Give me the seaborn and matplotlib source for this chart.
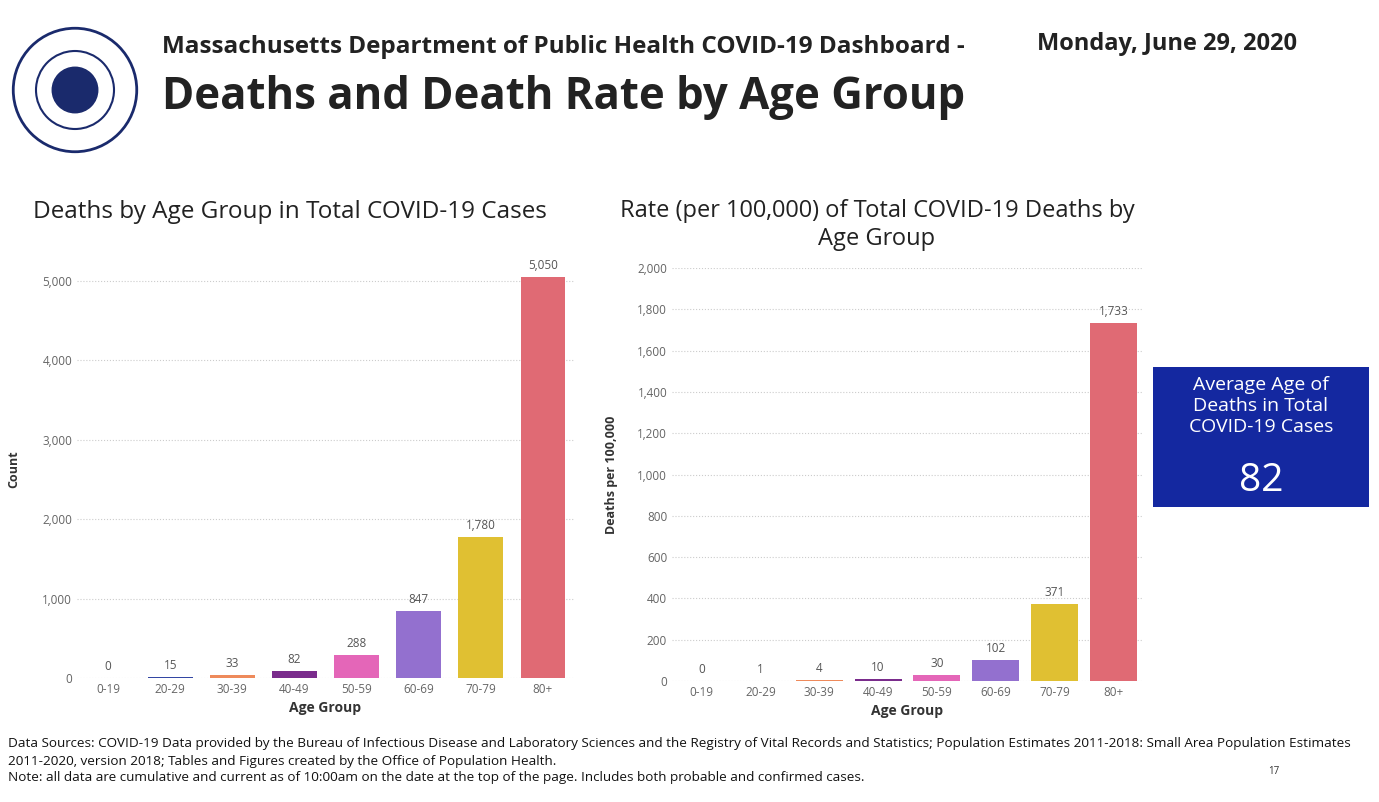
import matplotlib
matplotlib.use("Agg")
import matplotlib.pyplot as plt
import seaborn as sns
import pandas as pd
from matplotlib.patches import Rectangle, Circle

age_groups = ["0-19", "20-29", "30-39", "40-49", "50-59", "60-69", "70-79", "80+"]
deaths = [0, 15, 33, 82, 288, 847, 1780, 5050]
rates = [0, 1, 4, 10, 30, 102, 371, 1733]
colors = ["#3b8fd6", "#3346a3", "#ee8a5b", "#7a2c8c", "#e466b8", "#9370cf", "#e0c032", "#e06a74"]

plt.rcParams["font.family"] = "Open Sans"
fig = plt.figure(figsize=(13.79, 8.02), dpi=100)
W, H = 1379, 802

def ax_px(l, t, r, b):
    return fig.add_axes([l / W, 1 - b / H, (r - l) / W, (b - t) / H])

def draw(ax, vals, ymax, step, ylabel, width, pad):
    df = pd.DataFrame({"Age Group": age_groups, "v": vals})
    sns.barplot(data=df, x="Age Group", y="v", hue="Age Group", palette=colors,
                legend=False, ax=ax, width=width, saturation=1)
    ax.set_ylim(0, ymax)
    ax.set_yticks(range(0, int(ymax) + 1, step))
    ax.set_yticklabels([f"{v:,}" for v in range(0, int(ymax) + 1, step)])
    for i, v in enumerate(vals):
        ax.text(i, v + ymax * 0.012, f"{v:,}", ha="center", va="bottom", fontsize=8.5, color="#555555")
    ax.set_xlabel("Age Group", fontsize=10, fontweight="bold", color="#333333")
    ax.set_ylabel(ylabel, fontsize=9, fontweight="bold", color="#333333", labelpad=pad)
    for s in ax.spines.values():
        s.set_visible(False)
    ax.tick_params(length=0, labelsize=8.5, colors="#666666")
    ax.grid(axis="y", linestyle=":", color="#cccccc")
    ax.set_axisbelow(True)

ax1 = ax_px(77, 260, 574, 678)
draw(ax1, deaths, 5264, 1000, "Count", 0.72, 16)
ax2 = ax_px(672, 268, 1143, 681)
draw(ax2, rates, 2000, 200, "Deaths per 100,000", 0.8, 14)

fig.text(290 / W, 1 - 212 / H, "Deaths by Age Group in Total COVID-19 Cases", fontsize=17.5,
         ha="center", va="center", color="#222222")
fig.text(877 / W, 1 - 225 / H, "Rate (per 100,000) of Total COVID-19 Deaths by\nAge Group", fontsize=17,
         ha="center", va="center", color="#222222", linespacing=1.2)

fig.text(162 / W, 1 - 47 / H, "Massachusetts Department of Public Health COVID-19 Dashboard -",
         fontsize=17.5, fontweight="bold", va="center", color="#222222")
fig.text(162 / W, 1 - 97 / H, "Deaths and Death Rate by Age Group", fontsize=31.5,
         fontweight="bold", va="center", color="#222222")
fig.text(1297 / W, 1 - 44 / H, "Monday, June 29, 2020", fontsize=17, fontweight="bold",
         ha="right", va="center", color="#222222")

# logo placeholder
lax = fig.add_axes([10 / W, 1 - 155 / H, 130 / W, 130 / H])
lax.set_xlim(-1, 1); lax.set_ylim(-1, 1); lax.axis("off"); lax.set_aspect("equal")
lax.add_patch(Circle((0, 0), 0.95, fill=False, color="#1a2a6c", lw=2))
lax.add_patch(Circle((0, 0), 0.6, fill=False, color="#1a2a6c", lw=1.5))
lax.add_patch(Circle((0, 0), 0.35, color="#1a2a6c"))

# blue box
bax = fig.add_axes([1153 / W, 1 - 507 / H, 216 / W, 140 / H])
bax.axis("off")
bax.add_patch(Rectangle((0, 0), 1, 1, color="#1428a0", transform=bax.transAxes))
bax.text(0.5, 0.72, "Average Age of\nDeaths in Total\nCOVID-19 Cases", ha="center", va="center",
         color="white", fontsize=14, linespacing=1.2, transform=bax.transAxes)
bax.text(0.5, 0.19, "82", ha="center", va="center", color="white", fontsize=28,
         transform=bax.transAxes)

foot = ["Data Sources: COVID-19 Data provided by the Bureau of Infectious Disease and Laboratory Sciences and the Registry of Vital Records and Statistics; Population Estimates 2011-2018: Small Area Population Estimates",
        "2011-2020, version 2018; Tables and Figures created by the Office of Population Health.",
        "Note: all data are cumulative and current as of 10:00am on the date at the top of the page. Includes both probable and confirmed cases."]
for k, line in enumerate(foot):
    fig.text(8 / W, 1 - (744 + 17 * k) / H, line, fontsize=9.7, va="center", color="#111111")
fig.text(1274 / W, 1 - 772 / H, "17", fontsize=7, ha="center", va="center", color="#333333")

fig.savefig("out.png", dpi=100)
